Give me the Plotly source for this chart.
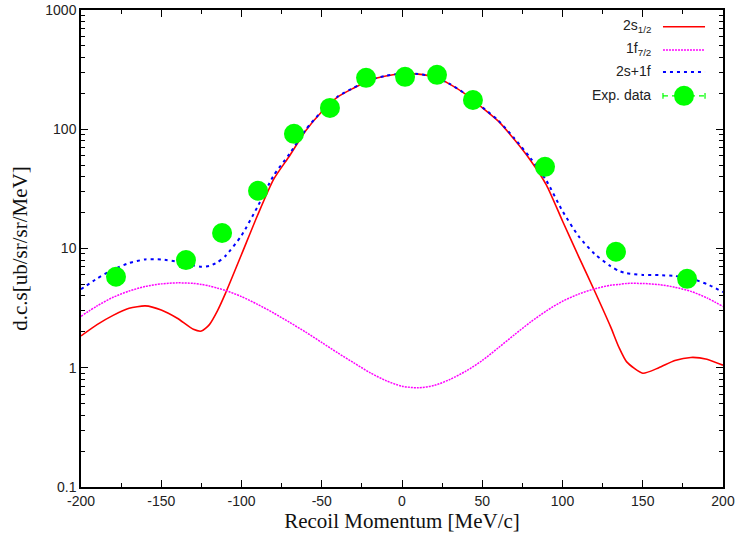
import plotly.graph_objects as go

# Recoil momentum grid (MeV/c) for the calculated curves
p_calc = [-200, -190, -180, -170, -160, -150, -140, -130, -125, -120, -115, -110,
          -100, -90, -80, -70, -60, -50, -40, -30, -20, -10, 0, 10, 20, 30, 40,
          50, 60, 70, 80, 90, 100, 110, 120, 130, 135, 140, 150, 160, 170, 180,
          190, 200]

# 2s1/2 knockout cross section
xs_2s = [1.85, 2.3, 2.75, 3.15, 3.3, 3.05, 2.6, 2.1, 2.03, 2.3, 3.0, 4.2,
         8.9, 19, 38, 60, 97, 140, 187, 222, 258, 280, 292, 290, 275, 238, 195,
         152, 117, 82, 55, 34, 17, 8.6, 4.4, 2.2, 1.5, 1.12, 0.9, 1.0, 1.15, 1.22,
         1.18, 1.05]

# 1f7/2 knockout cross section
xs_1f = [2.7, 3.3, 3.9, 4.4, 4.8, 5.05, 5.15, 5.1, 5.0, 4.85, 4.65, 4.45,
         3.95, 3.4, 2.88, 2.4, 1.99, 1.63, 1.33, 1.1, 0.91, 0.78, 0.70, 0.68, 0.71, 0.80, 0.94,
         1.15, 1.47, 1.89, 2.41, 3.0, 3.61, 4.14, 4.59, 4.92, 5.0, 5.09, 5.09, 4.98, 4.73, 4.37,
         3.85, 3.26]

# Incoherent sum 2s + 1f
xs_sum = [4.55, 5.6, 6.65, 7.55, 8.1, 8.1, 7.75, 7.2, 7.03, 7.15, 7.65, 8.65,
          12.85, 22.4, 40.9, 62.4, 99, 141.6, 188.3, 223.1, 258.9, 280.8, 292.7, 290.7, 275.7, 238.8, 195.9,
          153.2, 118.5, 83.9, 57.4, 37, 20.6, 12.7, 9.0, 7.1, 6.5, 6.2, 6.0, 5.98, 5.88, 5.6,
          5.03, 4.31]

# Measured data
p_exp = [-178.2, -134.6, -112.1, -89.7, -67.3, -44.9, -22.4, 1.9, 21.8, 44.2, 89.1, 133.3, 177.6]
xs_exp = [5.8, 8.0, 13.5, 30.5, 91.5, 151, 270, 275, 286, 176, 48.4, 9.4, 5.57]

# Axis tick labels
x_ticks = [-200, -150, -100, -50, 0, 50, 100, 150, 200]
x_tick_text = ["-200", "-150", "-100", "-50", "0", "50", "100", "150", "200"]
y_ticks = [0.1, 1, 10, 100, 1000]
y_tick_text = ["0.1", "1", "10", "100", "1000"]

fig = go.Figure()

fig.add_trace(go.Scatter(x=p_calc, y=xs_2s, mode="lines", line=dict(color="#ff0000", width=1.6, shape="spline", smoothing=0.6),
                         showlegend=False))
fig.add_trace(go.Scatter(x=p_calc, y=xs_1f, mode="lines", line=dict(color="#ff00ff", width=1.5, dash="2px,1px", shape="spline", smoothing=0.8),
                         showlegend=False))
fig.add_trace(go.Scatter(x=p_calc, y=xs_sum, mode="lines", line=dict(color="#0000ff", width=2, dash="3px,4px", shape="spline", smoothing=0.6),
                         showlegend=False))
fig.add_trace(go.Scatter(x=p_exp, y=xs_exp, mode="markers", marker=dict(color="#00ff00", size=20, line=dict(width=0)),
                         showlegend=False))

tick_font = dict(family="Liberation Sans, Arial, sans-serif", size=14, color="#222222")
title_font = dict(family="Liberation Serif, Times New Roman, serif", size=21, color="#111111")

fig.update_xaxes(range=[-200, 200], tickvals=x_ticks, ticktext=x_tick_text,
                 ticks="inside", ticklen=7, tickwidth=1, tickcolor="black",
                 minor=dict(ticks="inside", ticklen=4, tickwidth=1, tickcolor="black", dtick=25, showgrid=False),
                 showline=True, linecolor="black", linewidth=1.5, mirror="ticks",
                 showgrid=False, zeroline=False, tickfont=tick_font, automargin=False,
                 title=dict(text="Recoil Momentum [MeV/c]", font=title_font, standoff=3))
fig.update_yaxes(type="log", range=[-1, 3], tickvals=y_ticks, ticktext=y_tick_text,
                 ticks="inside", ticklen=7, tickwidth=1, tickcolor="black",
                 minor=dict(ticks="inside", ticklen=4, tickwidth=1, tickcolor="black", dtick="D1", showgrid=False),
                 showline=True, linecolor="black", linewidth=1.5, mirror="ticks",
                 showgrid=False, zeroline=False, tickfont=tick_font, automargin=False,
                 title=dict(text="d.c.s[ub/sr/sr/MeV]", font=title_font, standoff=12))

# Key in the upper right: labels right-aligned, samples to the right
key_rows = [0.965, 0.916, 0.870, 0.820]
key_labels = ["2s<sub>1/2</sub>", "1f<sub>7/2</sub>", "2s+1f", "Exp. data"]
key_x0, key_x1, key_text = 0.9065, 0.972, 0.891
annotations = []
for yy, lab in zip(key_rows, key_labels):
    annotations.append(dict(xref="paper", yref="paper", x=key_text, y=yy + 0.002, text=lab,
                            showarrow=False, xanchor="right", yanchor="middle",
                            font=dict(family="Liberation Sans, Arial, sans-serif", size=14, color="#222222")))
shapes = [
    dict(type="line", xref="paper", yref="paper", x0=key_x0, x1=key_x1, y0=key_rows[0], y1=key_rows[0],
         line=dict(color="#ff0000", width=1.6)),
    dict(type="line", xref="paper", yref="paper", x0=key_x0, x1=key_x1, y0=key_rows[1], y1=key_rows[1],
         line=dict(color="#ff00ff", width=1.5, dash="2px,1px")),
    dict(type="line", xref="paper", yref="paper", x0=key_x0, x1=key_x1, y0=key_rows[2], y1=key_rows[2],
         line=dict(color="#0000ff", width=2, dash="3px,4px")),
    dict(type="line", xref="paper", yref="paper", x0=key_x0, x1=key_x1, y0=key_rows[3], y1=key_rows[3],
         line=dict(color="#00ff00", width=1.2, dash="5px,4px")),
    dict(type="line", xref="paper", yref="paper", x0=key_x0, x1=key_x0, y0=key_rows[3] - 0.006, y1=key_rows[3] + 0.006,
         line=dict(color="#00ff00", width=1.2)),
    dict(type="line", xref="paper", yref="paper", x0=key_x1, x1=key_x1, y0=key_rows[3] - 0.006, y1=key_rows[3] + 0.006,
         line=dict(color="#00ff00", width=1.2)),
    dict(type="circle", xref="paper", yref="paper", xsizemode="pixel", ysizemode="pixel",
         xanchor=(key_x0 + key_x1) / 2, yanchor=key_rows[3], x0=-10, x1=10, y0=-10, y1=10,
         fillcolor="#00ff00", line=dict(width=0)),
]

fig.update_layout(width=736, height=539, margin=dict(l=81, r=13, t=10, b=52),
                  plot_bgcolor="white", paper_bgcolor="white",
                  annotations=annotations, shapes=shapes, showlegend=False)

fig.write_html("out.html")
